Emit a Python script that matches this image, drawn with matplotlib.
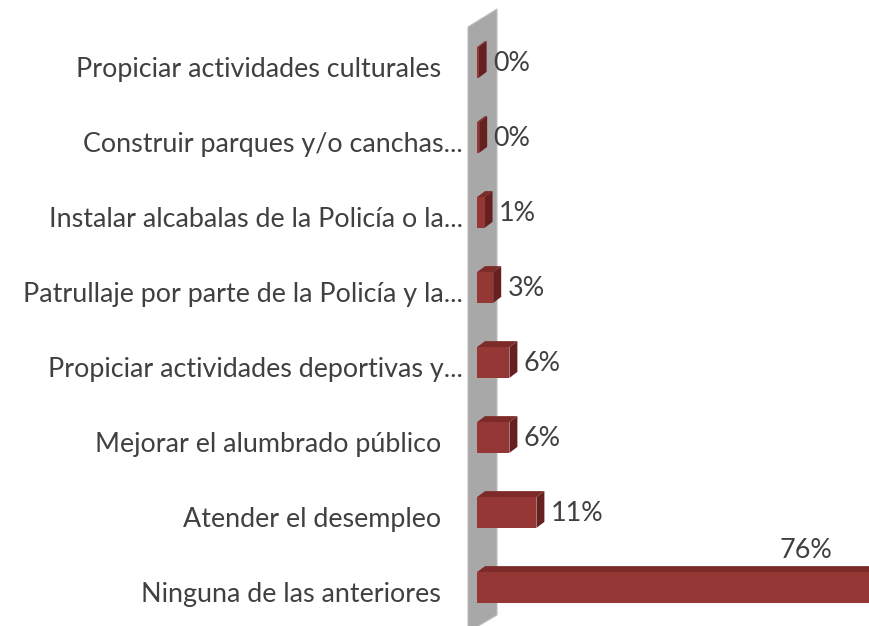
import matplotlib
matplotlib.use("Agg")
import matplotlib.pyplot as plt
from matplotlib.patches import Polygon

# data, bottom to top as drawn
categories = [
    "Ninguna de las anteriores",
    "Atender el desempleo",
    "Mejorar el alumbrado público",
    "Propiciar actividades deportivas y...",
    "Patrullaje por parte de la Policía y la...",
    "Instalar alcabalas de la Policía o la...",
    "Construir parques y/o canchas...",
    "Propiciar actividades culturales",
]
values = [76, 11, 6, 6, 3, 1.4, 0.4, 0.3]
value_labels = ["76%", "11%", "6%", "6%", "3%", "1%", "0%", "0%"]

W, H = 870, 626
front = "#953735"
top = "#7d2b29"
side = "#66201f"
txt = "#404040"
fs = 19.4

plt.rcParams['font.family'] = ['Lato', 'DejaVu Sans']

fig = plt.figure(figsize=(W / 100, H / 100), dpi=100)

# gray back wall (pixel coords -> figure fraction)
wall = [(468, 27), (497, 9), (497, 615), (468, 632)]
fig.add_artist(Polygon([(x / W, 1 - y / H) for x, y in wall], closed=True,
                       facecolor="#a8a8a8", edgecolor="#bdbdbd", lw=0.8,
                       transform=fig.transFigure, zorder=0))

px_per_unit = 5.4
ax_left = 477
ax = fig.add_axes([ax_left / W, (H - 617.5) / H, (W - ax_left) / W, 600 / H])
ax.set_xlim(0, (W - ax_left) / px_per_unit)
ax.set_ylim(-0.4, 7.6)
ax.patch.set_alpha(0)
ax.axis("off")

h = 0.41
dx = 8 / px_per_unit
dy = 6 / 75.0
xmax = ax.get_xlim()[1]

for i, (v, lab) in enumerate(zip(values, value_labels)):
    y0, y1 = i - h / 2, i + h / 2
    ax.add_patch(Polygon([(0, y1), (v, y1), (v + dx, y1 + dy), (dx, y1 + dy)],
                         closed=True, facecolor=top, edgecolor="none", zorder=2))
    ax.add_patch(Polygon([(v, y0), (v, y1), (v + dx, y1 + dy), (v + dx, y0 + dy)],
                         closed=True, facecolor=side, edgecolor="none", zorder=2))
    ax.barh(i, v, height=h, color=front, edgecolor="none", zorder=3)
    if v + dx < xmax:
        ax.annotate(lab, (v + dx, i), xytext=(4.5, -1), textcoords="offset points",
                    ha="left", va="center", fontsize=fs, color=txt)
    else:
        # bar runs off the plot, label goes above it
        ax.annotate(lab, (xmax, y1 + dy), xytext=(-27, 2), textcoords="offset points",
                    ha="right", va="bottom", fontsize=fs, color=txt)

for i, cat in enumerate(categories):
    off = -14 if cat.endswith("...") else -36
    ax.annotate(cat, (0, i), xycoords="data", xytext=(off * 0.72, -5),
                textcoords="offset points", ha="right", va="center",
                fontsize=fs, color=txt, annotation_clip=False)

fig.savefig("out.png", dpi=100)
